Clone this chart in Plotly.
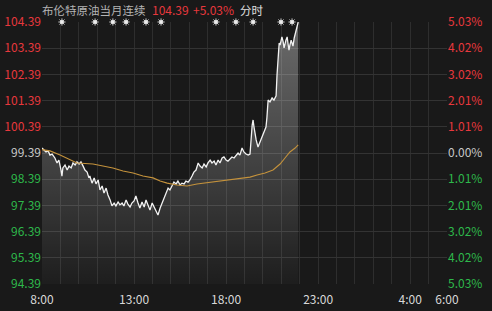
import plotly.graph_objects as go

# ---- data ----
price_minutes = [0, 7, 13, 20, 26, 33, 42, 49, 55, 62, 65, 68, 75, 82, 88, 95, 101, 108, 114, 121,
                 127, 134, 140, 147, 153, 156, 163, 170, 176, 183, 189, 196, 202, 209, 215, 222, 228,
                 235, 241, 248, 254, 261, 267, 274, 280, 287, 293, 300, 306, 313, 319, 326, 333, 339,
                 346, 352, 359, 365, 372, 378, 385, 391, 398, 404, 411, 417, 424, 430, 437, 443, 450,
                 456, 463, 469, 476, 482, 489, 495, 502, 509, 515, 522, 528, 535, 541, 548, 554, 561,
                 567, 574, 580, 587, 593, 600, 606, 613, 619, 626, 632, 639, 645, 652, 658, 665, 672,
                 678, 685, 688, 691, 694, 698, 704, 711, 717, 724, 730, 733, 737, 743, 750, 756, 763,
                 766, 769, 773, 776, 782, 786, 789, 795, 799, 802, 805, 808, 812, 815, 818, 822, 825,
                 828, 831, 835]
price_values = [99.58, 99.50, 99.43, 99.47, 99.31, 99.35, 99.20, 99.01, 99.12, 98.74, 98.51, 98.82,
                98.93, 98.74, 98.89, 98.82, 99.01, 98.93, 99.05, 98.97, 99.05, 98.89, 98.74, 98.66,
                98.44, 98.51, 98.24, 98.44, 98.21, 98.36, 97.98, 98.13, 97.86, 98.05, 97.79, 97.60,
                97.37, 97.48, 97.37, 97.52, 97.41, 97.48, 97.37, 97.60, 97.44, 97.33, 97.48, 97.56,
                97.75, 97.48, 97.29, 97.52, 97.33, 97.60, 97.41, 97.21, 97.48, 97.33, 97.14, 97.02,
                97.29, 97.48, 97.67, 97.86, 98.05, 97.98, 98.17, 98.28, 98.21, 98.32, 98.17, 98.24,
                98.21, 98.32, 98.28, 98.36, 98.51, 98.66, 98.74, 99.01, 98.89, 98.82, 98.97, 98.86,
                99.01, 99.12, 99.01, 99.08, 98.93, 99.12, 99.01, 99.20, 99.24, 99.12, 99.08, 99.16,
                99.24, 99.20, 99.31, 99.39, 99.31, 99.58, 99.43, 99.35, 99.31, 99.35, 100.46, 100.65,
                100.38, 100.15, 99.89, 99.62, 99.81, 100.04, 100.19, 100.38, 100.73, 101.41, 101.34,
                101.49, 101.41, 101.57, 102.37, 103.13, 103.59, 103.51, 103.82, 103.63, 103.40,
                103.70, 103.82, 103.55, 103.32, 103.51, 103.70, 103.59, 103.47, 103.78, 103.97,
                104.08, 104.20, 104.39]

avg_minutes = [0, 26, 59, 91, 114, 166, 205, 231, 264, 297, 329, 362, 385, 408, 440, 473, 505, 557,
               613, 662, 678, 701, 727, 753, 776, 792, 808, 825, 835]
avg_values = [99.52, 99.47, 99.31, 99.12, 99.01, 98.97, 98.89, 98.82, 98.70, 98.63, 98.51, 98.44,
              98.32, 98.24, 98.17, 98.13, 98.21, 98.28, 98.36, 98.44, 98.47, 98.55, 98.63, 98.74,
              98.97, 99.20, 99.43, 99.58, 99.70]

event_minutes = [65, 173, 231, 274, 339, 388, 567, 632, 688, 779, 815]

price_ticks = [104.39, 103.39, 102.39, 101.39, 100.39, 99.39, 98.39, 97.39, 96.39, 95.39, 94.39]
pct_labels = ["5.03%", "4.02%", "3.02%", "2.01%", "1.01%", "0.00%", "1.01%", "2.01%", "3.02%", "4.02%", "5.03%"]
x_tick_hours = [8, 13, 18, 23, 28, 30]
x_tick_labels = ["8:00", "13:00", "18:00", "23:00", "4:00", "6:00"]

title_name = "布伦特原油当月连续"
last_price = "104.39"
change_pct = "+5.03%"
mode_label = "分时"

RED = "#e8383d"
GREEN = "#2eb84b"
NEUTRAL = "#c8c8c8"
BG = "#191919"
GRID = "#2e2e2e"

def hours(m):
    return 8 + m / 60.0

px_ = [hours(m) for m in price_minutes]
ax_ = [hours(m) for m in avg_minutes]
ex_ = [hours(m) for m in event_minutes]

base = price_ticks[5]

def tick_color(v):
    if v > base + 1e-6:
        return RED
    if v < base - 1e-6:
        return GREEN
    return NEUTRAL

left_text = [f'<span style="color:{tick_color(v)}">{v:.2f}</span>' for v in price_ticks]
right_text = [f'<span style="color:{tick_color(v)}">{t}</span>' for v, t in zip(price_ticks, pct_labels)]

fig = go.Figure()

fig.add_trace(go.Scatter(
    x=px_, y=price_values, mode="lines",
    line=dict(color="#f2f2f2", width=1.3),
    fill="tozeroy",
    fillgradient=dict(type="vertical", start=price_ticks[-1], stop=price_ticks[0],
                      colorscale=[[0, "rgba(255,255,255,0.02)"], [1, "rgba(255,255,255,0.36)"]]),
    hoverinfo="skip", showlegend=False))

fig.add_trace(go.Scatter(
    x=ax_, y=avg_values, mode="lines",
    line=dict(color="#c4923c", width=1.1),
    hoverinfo="skip", showlegend=False))

fig.add_trace(go.Scatter(
    x=ex_, y=[price_ticks[0]] * len(ex_), mode="markers",
    marker=dict(symbol="asterisk", size=6, color="#c8c8c8", line=dict(color="#c8c8c8", width=1)),
    cliponaxis=False, hoverinfo="skip", showlegend=False))
fig.add_trace(go.Scatter(
    x=ex_, y=[price_ticks[0]] * len(ex_), mode="markers",
    marker=dict(symbol="circle", size=4, color="#ececec", line=dict(width=0)),
    cliponaxis=False, hoverinfo="skip", showlegend=False))

# invisible trace for right axis
fig.add_trace(go.Scatter(
    x=[x_tick_hours[0], x_tick_hours[-1]], y=[price_ticks[-1], price_ticks[0]],
    yaxis="y2", mode="lines", line=dict(color="rgba(0,0,0,0)"),
    hoverinfo="skip", showlegend=False))

PLOT_L, PLOT_W = 42, 405

def paper_x(pix):
    return (pix - PLOT_L) / PLOT_W

title_parts = [
    (title_name, "#b4b4b4", 11.5, 40),
    (last_price, RED, 12, 150),
    (change_pct, RED, 12, 191),
    (mode_label, "#e0e0e0", 11.5, 238),
]
annotations = [dict(
    xref="paper", yref="paper", x=paper_x(pxl), y=1, xanchor="left", yanchor="bottom",
    yshift=2, showarrow=False, text=t, font=dict(size=fs, color=c),
) for t, c, fs, pxl in title_parts]

fig.update_layout(
    width=492, height=311,
    margin=dict(l=42, r=45, t=22, b=27, autoexpand=False),
    paper_bgcolor=BG, plot_bgcolor=BG,
    font=dict(family="Noto Sans CJK SC, Noto Sans, sans-serif", size=11, color=NEUTRAL),
    xaxis=dict(
        range=[x_tick_hours[0], x_tick_hours[-1]],
        tickmode="array",
        tickvals=list(range(8, 31)),
        ticktext=[x_tick_labels[x_tick_hours.index(h)] if h in x_tick_hours else "" for h in range(8, 31)],
        showgrid=True, gridcolor=GRID, gridwidth=1,
        zeroline=False, showline=False, ticks="",
        ticklabelstandoff=7, automargin=False,
        tickfont=dict(size=12, color="#d8d8d8"),
    ),
    yaxis=dict(
        range=[price_ticks[-1], price_ticks[0]],
        tickmode="array", tickvals=price_ticks, ticktext=left_text,
        showgrid=True, gridcolor="#333333", gridwidth=1,
        zeroline=False, showline=False, ticks="", automargin=False,
        tickfont=dict(size=12),
    ),
    yaxis2=dict(
        range=[price_ticks[-1], price_ticks[0]],
        overlaying="y", side="right",
        tickmode="array", tickvals=price_ticks, ticktext=right_text,
        showgrid=False, zeroline=False, showline=False, ticks="", automargin=False,
        tickfont=dict(size=12),
    ),
    annotations=annotations,
)

fig.write_html("out.html")
